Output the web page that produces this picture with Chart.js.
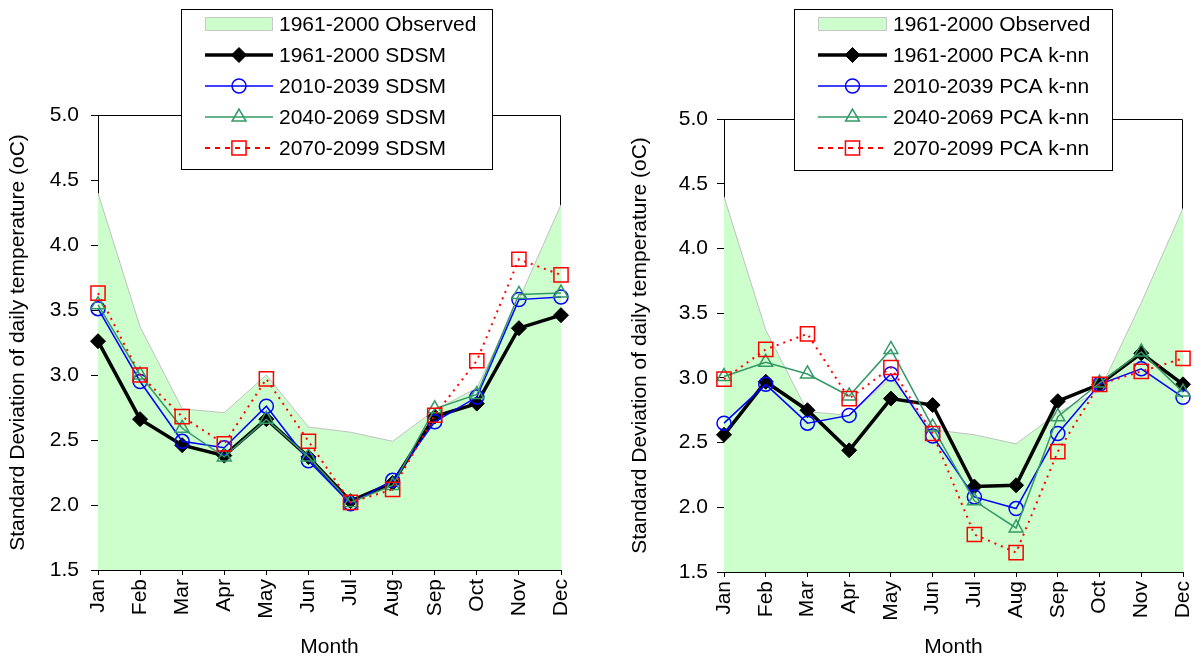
<!DOCTYPE html>
<html>
<head>
<meta charset="utf-8">
<script src="https://cdn.jsdelivr.net/npm/chart.js@4.4.1/dist/chart.umd.min.js"></script>
<style>
  html, body { margin: 0; padding: 0; background: #fff; overflow: hidden; }
  #wrap { position: relative; width: 1195px; height: 662px; overflow: hidden; }
  .box { position: absolute; top: 0; height: 662px; }
</style>
</head>
<body>
<div id="wrap">
  <div class="box" style="left:0;width:597px"><canvas id="leftChart"></canvas></div>
  <div class="box" style="left:600px;width:595px"><canvas id="rightChart"></canvas></div>
</div>
<script>
const months = ['Jan', 'Feb', 'Mar', 'Apr', 'May', 'Jun', 'Jul', 'Aug', 'Sep', 'Oct', 'Nov', 'Dec'];
const yTicks = [1.5, 2.0, 2.5, 3.0, 3.5, 4.0, 4.5, 5.0];

const observed = [4.40, 3.37, 2.74, 2.71, 3.00, 2.60, 2.56, 2.49, 2.73, 2.90, 3.58, 4.31];

const sdsm1961 = [3.26, 2.66, 2.46, 2.38, 2.66, 2.37, 2.03, 2.17, 2.68, 2.78, 3.36, 3.46];
const sdsm2010 = [3.51, 2.95, 2.49, 2.44, 2.76, 2.34, 2.01, 2.19, 2.64, 2.83, 3.58, 3.60];
const sdsm2040 = [3.54, 3.00, 2.59, 2.37, 2.66, 2.37, 2.02, 2.15, 2.74, 2.85, 3.62, 3.63];
const sdsm2070 = [3.63, 3.00, 2.68, 2.47, 2.97, 2.49, 2.02, 2.12, 2.69, 3.11, 3.89, 3.77];

const knn1961 = [2.56, 2.97, 2.75, 2.44, 2.84, 2.79, 2.16, 2.17, 2.82, 2.95, 3.19, 2.95];
const knn2010 = [2.65, 2.95, 2.65, 2.71, 3.03, 2.55, 2.08, 1.99, 2.57, 2.95, 3.07, 2.85];
const knn2040 = [3.01, 3.12, 3.03, 2.86, 3.22, 2.62, 2.05, 1.84, 2.70, 2.96, 3.20, 2.89];
const knn2070 = [2.99, 3.22, 3.34, 2.84, 3.08, 2.57, 1.79, 1.65, 2.43, 2.95, 3.05, 3.15];

Chart.defaults.font.family = '"Liberation Sans", Arial, sans-serif';
Chart.defaults.font.size = 21;
Chart.defaults.color = '#000';

// frame on top/right of the plot, then an Excel style legend box over it
const frameAndLegend = {
    id: 'frameAndLegend',
    beforeDatasetsDraw(chart) {
        const ctx = chart.ctx, a = chart.chartArea;
        ctx.save();
        ctx.strokeStyle = '#000';
        ctx.lineWidth = 1;
        ctx.beginPath();
        ctx.moveTo(a.left, a.top + 0.5);
        ctx.lineTo(a.right - 0.5, a.top + 0.5);
        ctx.lineTo(a.right - 0.5, a.bottom);
        ctx.stroke();
        ctx.restore();
    },
    afterDraw(chart, args, opts) {
        const ctx = chart.ctx;
        const [bx, by, bw, bh] = opts.box;
        ctx.save();
        ctx.fillStyle = '#fff';
        ctx.fillRect(bx, by, bw, bh);
        ctx.strokeStyle = '#000';
        ctx.lineWidth = 1;
        ctx.strokeRect(bx + 0.5, by + 0.5, bw, bh);
        ctx.font = '21px "Liberation Sans", Arial, sans-serif';
        ctx.textBaseline = 'middle';
        const x0 = opts.sampleX, x1 = opts.sampleX + opts.sampleW, xm = (x0 + x1) / 2;
        chart.data.datasets.forEach((ds, i) => {
            const y = opts.rowY[i];
            if (ds.fill) {
                ctx.fillStyle = ds.backgroundColor;
                ctx.fillRect(x0, y - 7, opts.sampleW, 14);
                ctx.strokeStyle = '#c8c8c8';
                ctx.strokeRect(x0 + 0.5, y - 6.5, opts.sampleW - 1, 13);
            } else {
                ctx.strokeStyle = ds.borderColor;
                ctx.lineWidth = ds.borderWidth;
                ctx.setLineDash(ds.borderDash ? [5, 5] : []);
                ctx.beginPath();
                ctx.moveTo(x0, y);
                ctx.lineTo(x1, y);
                ctx.stroke();
                ctx.setLineDash([]);
                ctx.fillStyle = ds.pointBackgroundColor;
                ctx.strokeStyle = ds.pointBorderColor;
                ctx.lineWidth = ds.pointBorderWidth;
                Chart.helpers.drawPoint(ctx, {
                    pointStyle: ds.pointStyle, radius: ds.pointRadius,
                    rotation: 0, borderWidth: ds.pointBorderWidth
                }, xm, y);
            }
            ctx.fillStyle = '#000';
            ctx.fillText(ds.label, opts.textX, y + 1);
        });
        ctx.restore();
    }
};

function makeDatasets(suffix, s1961, s2010, s2040, s2070) {
    return [
        {
            label: '1961-2000 Observed', data: observed, order: 5,
            fill: 'start', backgroundColor: '#ccffcc', borderColor: '#c0c0c0',
            borderWidth: 1, pointRadius: 0, tension: 0
        },
        {
            label: '1961-2000 ' + suffix, data: s1961, order: 4, clip: false,
            borderColor: '#000', borderWidth: 3.5,
            pointStyle: 'rectRot', pointRadius: 7.5, pointBackgroundColor: '#000',
            pointBorderColor: '#000', pointBorderWidth: 1
        },
        {
            label: '2010-2039 ' + suffix, data: s2010, order: 3, clip: false,
            borderColor: '#0000ff', borderWidth: 1.5,
            pointStyle: 'circle', pointRadius: 7, pointBackgroundColor: 'rgba(0,0,0,0)',
            pointBorderColor: '#0000ff', pointBorderWidth: 1.5
        },
        {
            label: '2040-2069 ' + suffix, data: s2040, order: 2, clip: false,
            borderColor: '#339966', borderWidth: 1.5,
            pointStyle: 'triangle', pointRadius: 8, pointBackgroundColor: 'rgba(0,0,0,0)',
            pointBorderColor: '#339966', pointBorderWidth: 1.5
        },
        {
            label: '2070-2099 ' + suffix, data: s2070, order: 1, clip: false,
            borderColor: '#ff0000', borderWidth: 2, borderDash: [2, 5],
            pointStyle: 'rect', pointRadius: 10, pointBackgroundColor: 'rgba(0,0,0,0)',
            pointBorderColor: '#ff0000', pointBorderWidth: 1.5
        }
    ];
}

function makeChart(id, datasets, lay, legendOpts) {
    return new Chart(document.getElementById(id), {
        type: 'line',
        data: { labels: months, datasets: datasets },
        options: {
            responsive: true,
            maintainAspectRatio: false,
            animation: false,
            layout: { padding: { top: lay.top, right: lay.right, left: 0, bottom: 0 } },
            elements: { line: { tension: 0 } },
            scales: {
                x: {
                    offset: false,
                    grid: { drawOnChartArea: false, drawTicks: true, tickLength: 5, color: '#000' },
                    border: { color: '#000', width: 1 },
                    ticks: { maxRotation: 90, minRotation: 90, padding: 4, autoSkip: false },
                    title: { display: true, text: 'Month', padding: { top: 0, bottom: 2 } },
                    afterFit: (s) => { s.height = lay.xHeight; s.paddingLeft = 0; s.paddingRight = 0; }
                },
                y: {
                    min: 1.5, max: 5.0,
                    afterBuildTicks: (s) => { s.ticks = yTicks.map(v => ({ value: v })); },
                    grid: { drawOnChartArea: false, drawTicks: true, tickLength: 7, color: '#000' },
                    border: { color: '#000', width: 1 },
                    ticks: { padding: lay.tickPad, callback: (v) => Number(v).toFixed(1) },
                    title: { display: true, text: 'Standard Deviation of daily temperature (oC)', padding: { top: lay.titlePad, bottom: 0 } },
                    afterFit: (s) => { s.width = lay.yWidth; }
                }
            },
            plugins: {
                legend: { display: false },
                tooltip: { enabled: false },
                frameAndLegend: legendOpts
            }
        },
        plugins: [frameAndLegend]
    });
}

makeChart('leftChart', makeDatasets('SDSM', sdsm1961, sdsm2010, sdsm2040, sdsm2070),
    { top: 115, right: 36, yWidth: 98, xHeight: 92, tickPad: 12, titlePad: 6 },
    { box: [181, 9, 311, 160], rowY: [24, 55, 86, 117, 148], sampleX: 205, sampleW: 68, textX: 279 });

makeChart('rightChart', makeDatasets('PCA k-nn', knn1961, knn2010, knn2040, knn2070),
    { top: 119, right: 12, yWidth: 124, xHeight: 90, tickPad: 9, titlePad: 28 },
    { box: [194, 9, 318, 161], rowY: [24, 55, 86, 117, 148], sampleX: 218, sampleW: 69, textX: 293 });
</script>
</body>
</html>
